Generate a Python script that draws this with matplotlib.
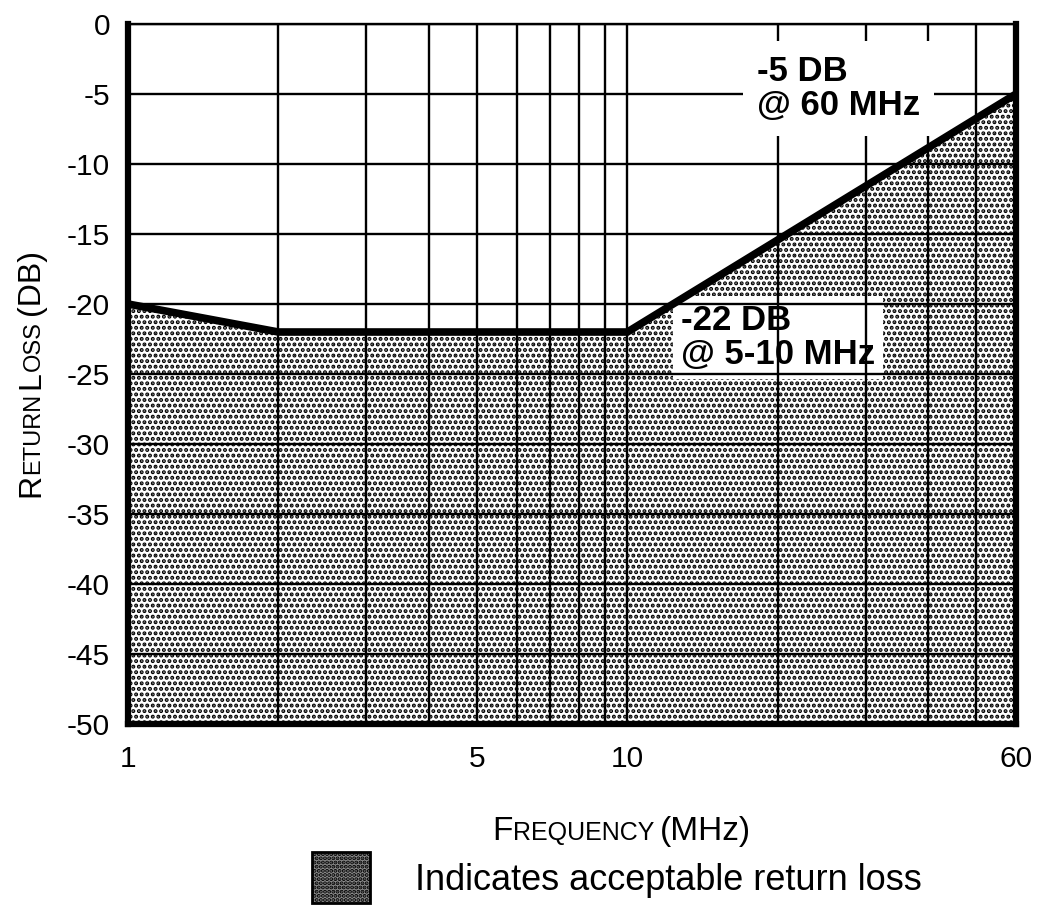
import matplotlib
matplotlib.use("Agg")
import matplotlib.pyplot as plt
from matplotlib.patches import Rectangle

# ---- data ----
freq_mhz = [1, 2, 10, 60]
return_loss_db = [-20, -22, -22, -5]
y_floor = -50

xtick_vals = [1, 5, 10, 60]
xtick_labels = ["1", "5", "10", "60"]
grid_freqs = [2, 3, 4, 6, 7, 8, 9, 20, 30, 40, 50]
ytick_vals = [0, -5, -10, -15, -20, -25, -30, -35, -40, -45, -50]
ytick_labels = [str(v) for v in ytick_vals]

note_high = "-5 DB\n@ 60 MHz"
note_high_xy = (18.2, -4.6)
note_low = "-22 DB\n@ 5-10 MHz"
note_low_xy = (12.8, -22.4)
legend_text = "Indicates acceptable return loss"

FONT = "Liberation Sans"
plt.rcParams["font.family"] = [FONT, "DejaVu Sans"]
plt.rcParams["hatch.color"] = "black"
plt.rcParams["hatch.linewidth"] = 2.0

W, H = 1044, 905
fig = plt.figure(figsize=(W / 100, H / 100), dpi=100)

L, R, T, B = 128, 1016, 24, 724
ax = fig.add_axes([L / W, 1 - B / H, (R - L) / W, (B - T) / H])

ax.set_xscale("log")
ax.set_xlim(1, 60)
ax.set_ylim(-50, 0)

# shaded acceptable region
ax.fill_between(freq_mhz, return_loss_db, y_floor, facecolor="white",
                edgecolor="black", hatch="...", linewidth=0, zorder=1)
ax.plot(freq_mhz, return_loss_db, color="black", lw=5.5,
        solid_joinstyle="miter", zorder=3)

# ticks & grid
ax.set_xticks(xtick_vals)
ax.set_xticklabels(xtick_labels)
ax.set_xticks(grid_freqs, minor=True)
ax.xaxis.set_minor_formatter(plt.NullFormatter())
ax.set_yticks(ytick_vals)
ax.set_yticklabels(ytick_labels)
ax.tick_params(axis="both", which="both", length=0, labelsize=21.5)
ax.tick_params(axis="x", pad=15)
ax.tick_params(axis="y", pad=13)
ax.set_axisbelow(False)
ax.grid(True, which="both", color="black", lw=1.7)

for s in ["left", "bottom", "right"]:
    ax.spines[s].set_linewidth(4.5)
ax.spines["top"].set_linewidth(1.7)

# annotations
ax.text(note_high_xy[0], note_high_xy[1], note_high, fontsize=25,
        fontweight="bold", ha="left", va="center", linespacing=1.02,
        bbox=dict(facecolor="white", edgecolor="none", pad=10), zorder=4)
ax.text(note_low_xy[0], note_low_xy[1], note_low, fontsize=25,
        fontweight="bold", ha="left", va="center", linespacing=1.02,
        bbox=dict(facecolor="white", edgecolor="none", pad=6), zorder=1.5)

# small-caps labels
renderer = fig.canvas.get_renderer()


def measure(s, size):
    t = fig.text(0, 0, s, fontsize=size)
    w = t.get_window_extent(renderer).width
    t.remove()
    return w


def small_caps(pieces, cx, cy, cap, vertical=False):
    # pieces: list of (text, size) or float gap (px)
    widths = [p if isinstance(p, (int, float)) else measure(*p) for p in pieces]
    total = sum(widths)
    if not vertical:
        x = cx - total / 2
        base = cy + cap / 2
        for p, w in zip(pieces, widths):
            if not isinstance(p, (int, float)):
                fig.text(x / W, 1 - base / H, p[0], fontsize=p[1],
                         ha="left", va="baseline")
            x += w
    else:
        y = cy + total / 2
        base = cx + cap / 2
        for p, w in zip(pieces, widths):
            if not isinstance(p, (int, float)):
                fig.text(base / W, 1 - y / H, p[0], fontsize=p[1],
                         ha="left", va="baseline", rotation=90,
                         rotation_mode="anchor")
            y -= w


small_caps([("F", 24), ("REQUENCY", 18), 6.0, ("(MHz)", 24)], 622, 828, 24)
small_caps([("R", 23), ("ETURN", 17), 4.0, ("L", 23), ("OSS", 17), 6.0,
            ("(DB)", 23)], 28, 373, 23, vertical=True)

# legend key
fig.patches.append(Rectangle((312 / W, 1 - 903 / H), 58 / W, 51 / H,
                             transform=fig.transFigure, facecolor="#8c8c8c",
                             edgecolor="black", lw=2, hatch="....",
                             figure=fig))
fig.text(415 / W, 1 - 880 / H, legend_text, fontsize=26, ha="left",
         va="center")

fig.savefig("out.png", dpi=100)
